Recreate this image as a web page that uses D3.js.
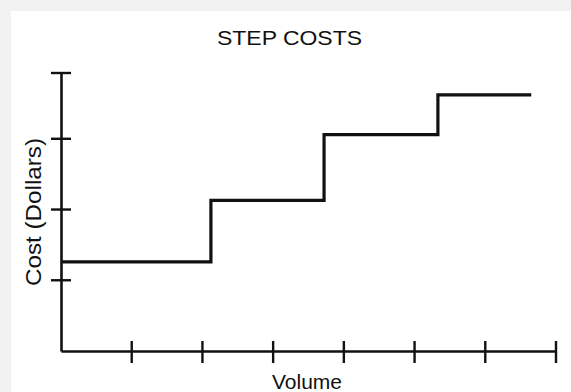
<!DOCTYPE html>
<html>
<head>
<meta charset="utf-8">
<script src="https://cdn.jsdelivr.net/npm/d3@7/dist/d3.min.js"></script>
<style>
  html, body { margin: 0; padding: 0; background: #f2f2f2; }
  svg { display: block; }
  text { font-family: "Liberation Sans", Arial, Helvetica, sans-serif; fill: #111; }
</style>
</head>
<body>
<svg id="chart" width="571" height="392"></svg>
<script>
// ---- data ----
const title = "STEP COSTS";
const xLabel = "Volume";
const yLabel = "Cost (Dollars)";
// step breakpoints (volume) and cost level for each step
const stepStarts = [0, 2.12, 3.72, 5.33];
const stepEnds   = [2.12, 3.72, 5.33, 6.65];
const stepCosts  = [1.26, 2.13, 3.06, 3.62];
const xTickValues = [1, 2, 3, 4, 5, 6, 7];
const yTickValues = [1, 2, 3, 3.93];
const xMax = 7;
const yMax = 3.93;

// ---- drawing ----
const svg = d3.select("#chart");
const W = 571, H = 392;

svg.append("rect").attr("x", 11).attr("y", 11).attr("width", W - 11).attr("height", H - 11).attr("fill", "#ffffff");

const x = d3.scaleLinear().domain([0, xMax]).range([61, 556]);
const y = d3.scaleLinear().domain([0, yMax]).range([351, 73]);

const ink = "#111";

// axis lines via d3 axes (domain only)
const gx = svg.append("g").attr("transform", `translate(0,${y(0)})`)
  .call(d3.axisBottom(x).tickValues([]).tickSizeOuter(0));
const gy = svg.append("g").attr("transform", `translate(${x(0)},0)`)
  .call(d3.axisLeft(y).tickValues([]).tickSizeOuter(0));
[gx, gy].forEach(g => g.select(".domain").attr("stroke", ink).attr("stroke-width", 2.6));

// crossing tick marks
svg.append("g").selectAll("line").data(xTickValues).join("line")
  .attr("x1", d => x(d)).attr("x2", d => x(d))
  .attr("y1", y(0) - 10).attr("y2", y(0) + 12)
  .attr("stroke", ink).attr("stroke-width", 2.4);
svg.append("g").selectAll("line").data(yTickValues).join("line")
  .attr("x1", x(0) - 10).attr("x2", x(0) + 10)
  .attr("y1", d => y(d)).attr("y2", d => y(d))
  .attr("stroke", ink).attr("stroke-width", 2.4);

// step line
const pts = [];
stepCosts.forEach((c, i) => { pts.push([stepStarts[i], c]); pts.push([stepEnds[i], c]); });
const line = d3.line().x(d => x(d[0])).y(d => y(d[1]));
svg.append("path").attr("d", line(pts))
  .attr("fill", "none").attr("stroke", ink).attr("stroke-width", 3.2)
  .attr("stroke-linejoin", "miter");

// texts
svg.append("text").attr("x", 289.5).attr("y", 45).attr("text-anchor", "middle")
  .attr("font-size", 21).attr("textLength", 145).attr("lengthAdjust", "spacingAndGlyphs")
  .text(title);
svg.append("text").attr("x", 307).attr("y", 389).attr("text-anchor", "middle")
  .attr("font-size", 21).text(xLabel);
svg.append("text").attr("transform", "translate(40.5,212) rotate(-90)").attr("text-anchor", "middle")
  .attr("font-size", 22).attr("textLength", 148).attr("lengthAdjust", "spacingAndGlyphs")
  .text(yLabel);
</script>
</body>
</html>
